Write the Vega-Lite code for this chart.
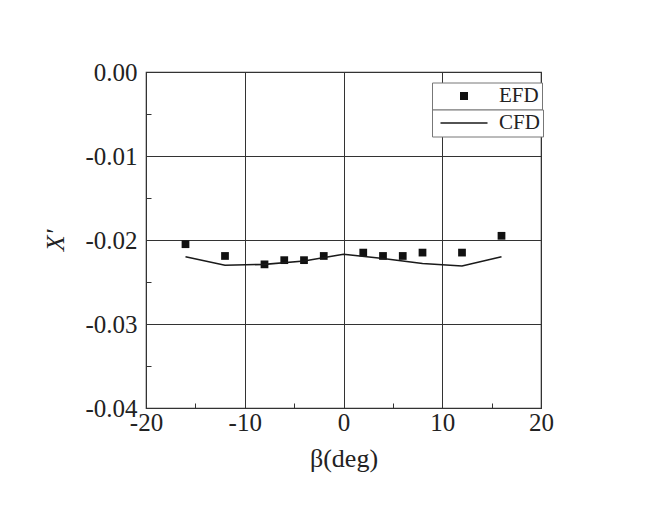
{
  "$schema": "https://vega.github.io/schema/vega-lite/v6.json",
  "width": 395,
  "height": 336,
  "autosize": {"type": "none"},
  "padding": {"left": 146, "top": 72, "right": 111, "bottom": 112},
  "background": "white",
  "config": {
    "view": {"stroke": "#333", "strokeWidth": 1.2},
    "font": "Liberation Serif",
    "axis": {
      "labelFont": "Liberation Serif",
      "titleFont": "Liberation Serif",
      "labelFontSize": 25,
      "titleFontSize": 26,
      "labelColor": "#222",
      "titleColor": "#222",
      "titleFontWeight": "normal",
      "domainColor": "#333",
      "tickColor": "#333",
      "tickSize": -5,
      "tickWidth": 1,
      "gridColor": "#333",
      "gridWidth": 1,
      "labelFlush": false,
      "labelOverlap": false
    }
  },
  "data": {
    "values": [
      {"series": "EFD", "beta": -16, "X": -0.0205},
      {"series": "EFD", "beta": -12, "X": -0.0219},
      {"series": "EFD", "beta": -8, "X": -0.0229},
      {"series": "EFD", "beta": -6, "X": -0.0224},
      {"series": "EFD", "beta": -4, "X": -0.0224},
      {"series": "EFD", "beta": -2, "X": -0.0219},
      {"series": "EFD", "beta": 2, "X": -0.0215},
      {"series": "EFD", "beta": 4, "X": -0.0219},
      {"series": "EFD", "beta": 6, "X": -0.0219},
      {"series": "EFD", "beta": 8, "X": -0.0215},
      {"series": "EFD", "beta": 12, "X": -0.0215},
      {"series": "EFD", "beta": 16, "X": -0.0195},
      {"series": "CFD", "beta": -16, "X": -0.0220},
      {"series": "CFD", "beta": -12, "X": -0.0230},
      {"series": "CFD", "beta": -8, "X": -0.0229},
      {"series": "CFD", "beta": -4, "X": -0.0225},
      {"series": "CFD", "beta": 0, "X": -0.0217},
      {"series": "CFD", "beta": 4, "X": -0.0222},
      {"series": "CFD", "beta": 8, "X": -0.0228},
      {"series": "CFD", "beta": 12, "X": -0.0231},
      {"series": "CFD", "beta": 16, "X": -0.0220}
    ]
  },
  "encoding": {
    "x": {
      "field": "beta",
      "type": "quantitative",
      "scale": {"domain": [-20, 20], "nice": false},
      "axis": {
        "title": "β(deg)",
        "values": [-20, -15, -10, -5, 0, 5, 10, 15, 20],
        "labelExpr": "datum.value % 10 === 0 ? '' + datum.value : ''",
        "labelPadding": 7,
        "titlePadding": 10,
        "grid": true,
        "gridOpacity": {"condition": {"test": "datum.value % 10 === 0", "value": 1}, "value": 0}
      }
    },
    "y": {
      "field": "X",
      "type": "quantitative",
      "scale": {"domain": [-0.04, 0], "nice": false},
      "axis": {
        "title": "X'",
        "titleFontStyle": "italic",
        "values": [-0.04, -0.035, -0.03, -0.025, -0.02, -0.015, -0.01, -0.005, 0],
        "labelExpr": "abs(datum.value * 100 - round(datum.value * 100)) < 0.000001 ? replace(format(datum.value, '.2f'), '−', '-') : ''",
        "labelPadding": 14,
        "titlePadding": 16,
        "grid": true,
        "gridOpacity": {"condition": {"test": "abs(datum.value * 100 - round(datum.value * 100)) < 0.000001", "value": 1}, "value": 0}
      }
    }
  },
  "layer": [
    {
      "transform": [{"filter": "datum.series === 'EFD'"}],
      "mark": {"type": "point", "filled": true, "opacity": 1, "shape": "square", "size": 60},
      "encoding": {
        "fill": {
          "field": "series",
          "type": "nominal",
          "scale": {"domain": ["EFD"], "range": ["#111111"]},
          "legend": {
            "title": null,
            "orient": "none",
            "legendX": 286,
            "legendY": 10.5,
            "fillColor": "white",
            "strokeColor": "#777",
            "padding": 3,
            "symbolType": "M2.9,-0.8H4.5V0.8H2.9Z",
            "symbolSize": 100,
            "symbolOffset": 0,
            "symbolStrokeWidth": 0,
            "labelFont": "Liberation Serif",
            "labelFontSize": 21,
            "labelColor": "#222",
            "labelOffset": 43
          }
        }
      }
    },
    {
      "transform": [{"filter": "datum.series === 'CFD'"}],
      "mark": {"type": "line", "strokeWidth": 1.6},
      "encoding": {
        "color": {
          "field": "series",
          "type": "nominal",
          "scale": {"domain": ["CFD"], "range": ["#1a1a1a"]},
          "legend": {
            "title": null,
            "orient": "none",
            "legendX": 286,
            "legendY": 37.5,
            "fillColor": "white",
            "strokeColor": "#777",
            "padding": 3,
            "symbolType": "M-1,0H8.4",
            "symbolSize": 100,
            "symbolOffset": 0,
            "symbolStrokeWidth": 1.6,
            "labelFont": "Liberation Serif",
            "labelFontSize": 21,
            "labelColor": "#222",
            "labelOffset": 43
          }
        }
      }
    }
  ]
}
